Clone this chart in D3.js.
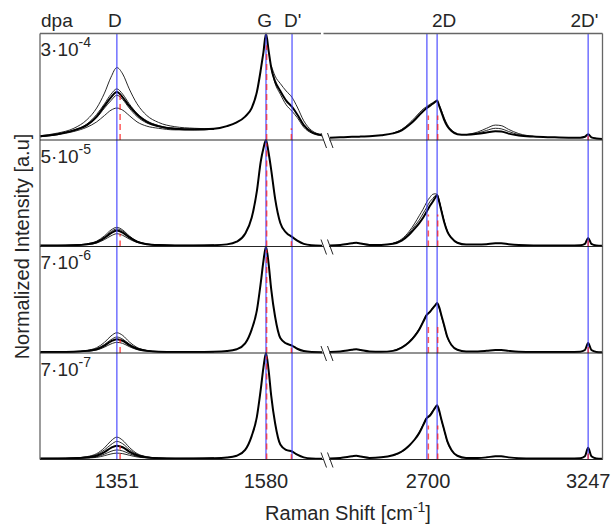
<!DOCTYPE html>
<html>
<head>
<meta charset="utf-8">
<script src="https://cdn.jsdelivr.net/npm/d3@7"></script>
<style>
  body { margin: 0; background: #fff; }
  text { font-family: "Liberation Sans", Arial, sans-serif; fill: #262626; }
</style>
</head>
<body>
<div id="vis"></div>
<script>
// wavenumber grids (cm-1) for the two halves of the broken axis
var gridLeft = [1233, 1260, 1285, 1305, 1320, 1332, 1342, 1351, 1360, 1370,
  1382, 1397, 1415, 1440, 1470, 1500, 1520, 1535, 1548, 1558,
  1566, 1572, 1576, 1580, 1584, 1588, 1594, 1602, 1611, 1620,
  1628, 1638, 1650, 1666];
var gridRight = [2365, 2400, 2440, 2455, 2470, 2500, 2540, 2580, 2610, 2635,
  2655, 2670, 2683, 2696, 2706, 2716, 2725, 2731, 2738, 2746,
  2755, 2766, 2780, 2800, 2830, 2870, 2900, 2930, 2950, 2975,
  3010, 3060, 3120, 3180, 3220, 3236, 3247, 3258, 3275, 3296];

var dpaBase = ["3\u00B710", "5\u00B710", "7\u00B710", "7\u00B710"];
var dpaExp = ["-4", "-5", "-6", "-7"];

var tickValues = [1351, 1580, 2700, 3247];
var peakNames = ["D", "G", "D'", "2D", "2D'"];
var peakLabelPos = [1348, 1578, 1621, 2755, 3234];
var peakLines = [1351, 1580, 1620, 2696, 2731, 3247];   // blue reference lines
var fitPos = [1356, 1581, 1619, 2701, 2733, 3247];      // red dashed fitted peaks
var fitH1 = [0.42, 0.89, 0.11, 0.23, 0.23, 0.04];
var fitH2 = [0.12, 0.97, 0.05, 0.30, 0.30, 0.07];
var fitH3 = [0.13, 0.97, 0.05, 0.27, 0.27, 0.08];
var fitH4 = [0.13, 0.97, 0.05, 0.32, 0.32, 0.09];

// panel 1 (3e-4 dpa)
var p1Left = [0.035, 0.055, 0.09, 0.14, 0.22, 0.32, 0.40, 0.45, 0.40, 0.32,
  0.24, 0.17, 0.13, 0.105, 0.10, 0.105, 0.13, 0.165, 0.22, 0.30,
  0.45, 0.66, 0.82, 1.0, 0.84, 0.68, 0.55, 0.46, 0.37, 0.31,
  0.24, 0.14, 0.075, 0.045];
var p1Right = [0.02, 0.025, 0.03, 0.03, 0.032, 0.035, 0.045, 0.062, 0.09, 0.14,
  0.19, 0.235, 0.27, 0.30, 0.32, 0.34, 0.36, 0.37, 0.32, 0.26,
  0.19, 0.13, 0.085, 0.055, 0.05, 0.058, 0.07, 0.082, 0.08, 0.06,
  0.042, 0.032, 0.026, 0.022, 0.022, 0.03, 0.055, 0.025, 0.015, 0.01];
var p1D = [
  [0.04, 0.065, 0.11, 0.19, 0.30, 0.44, 0.59, 0.68, 0.62, 0.48, 0.34, 0.23, 0.165, 0.125, 0.11, 0.105],
  [0.035, 0.055, 0.095, 0.15, 0.24, 0.34, 0.43, 0.48, 0.43, 0.34, 0.25, 0.18, 0.135, 0.11, 0.10, 0.105],
  [0.035, 0.055, 0.09, 0.14, 0.21, 0.30, 0.37, 0.42, 0.38, 0.30, 0.22, 0.16, 0.125, 0.10, 0.095, 0.10],
  [0.03, 0.05, 0.08, 0.12, 0.17, 0.23, 0.28, 0.30, 0.28, 0.23, 0.17, 0.13, 0.11, 0.095, 0.095, 0.10]];
var p1Dp = [
  [0.70, 0.60, 0.53, 0.46, 0.40, 0.31, 0.18, 0.09, 0.05],
  [0.67, 0.53, 0.43, 0.33, 0.27, 0.21, 0.12, 0.065, 0.04]];
var p12D = [
  [0.065, 0.10, 0.155, 0.21, 0.255, 0.29, 0.315, 0.335, 0.35, 0.36, 0.36, 0.33, 0.275, 0.21, 0.145, 0.095, 0.06]];
var p1Bump = [
  [0.05, 0.075, 0.11, 0.14, 0.135, 0.10, 0.06, 0.035],
  [0.05, 0.065, 0.09, 0.11, 0.105, 0.08, 0.05, 0.033]];

// panel 2 (5e-5 dpa)
var p2Left = [0.01, 0.01, 0.012, 0.02, 0.04, 0.08, 0.125, 0.15, 0.13, 0.085,
  0.045, 0.022, 0.013, 0.01, 0.01, 0.012, 0.02, 0.045, 0.12, 0.27,
  0.52, 0.80, 0.92, 1.0, 0.88, 0.72, 0.45, 0.22, 0.13, 0.09,
  0.055, 0.025, 0.012, 0.008];
var p2Right = [0.01, 0.015, 0.03, 0.035, 0.028, 0.015, 0.015, 0.025, 0.055, 0.11,
  0.17, 0.22, 0.27, 0.33, 0.38, 0.42, 0.46, 0.48, 0.42, 0.33,
  0.23, 0.14, 0.08, 0.035, 0.018, 0.018, 0.022, 0.03, 0.03, 0.022,
  0.014, 0.01, 0.01, 0.01, 0.012, 0.025, 0.08, 0.025, 0.01, 0.006];
var p2D = [
  [0.01, 0.01, 0.014, 0.025, 0.05, 0.10, 0.155, 0.18, 0.155, 0.10, 0.05, 0.024, 0.014, 0.01, 0.01, 0.012],
  [0.01, 0.01, 0.013, 0.022, 0.045, 0.09, 0.14, 0.165, 0.145, 0.095, 0.048, 0.023, 0.013, 0.01, 0.01, 0.012],
  [0.008, 0.009, 0.011, 0.018, 0.033, 0.065, 0.10, 0.12, 0.105, 0.07, 0.038, 0.02, 0.012, 0.01, 0.01, 0.012]];
var p22D = [
  [0.03, 0.07, 0.14, 0.22, 0.29, 0.35, 0.42, 0.46, 0.49, 0.495, 0.49, 0.43, 0.34, 0.24, 0.145, 0.08, 0.035],
  [0.028, 0.06, 0.125, 0.195, 0.25, 0.31, 0.37, 0.42, 0.45, 0.48, 0.49, 0.43, 0.335, 0.235, 0.14, 0.08, 0.035]];

// panel 3 (7e-6 dpa)
var p3Left = [0.01, 0.01, 0.012, 0.02, 0.035, 0.07, 0.11, 0.13, 0.115, 0.075,
  0.04, 0.02, 0.012, 0.01, 0.01, 0.012, 0.018, 0.035, 0.09, 0.22,
  0.40, 0.66, 0.86, 1.0, 0.84, 0.60, 0.34, 0.14, 0.09, 0.07,
  0.04, 0.018, 0.01, 0.008];
var p3Right = [0.01, 0.015, 0.03, 0.035, 0.028, 0.015, 0.012, 0.02, 0.05, 0.10,
  0.16, 0.22, 0.29, 0.36, 0.385, 0.42, 0.45, 0.47, 0.43, 0.35,
  0.26, 0.15, 0.075, 0.03, 0.015, 0.015, 0.02, 0.028, 0.028, 0.02,
  0.012, 0.01, 0.01, 0.01, 0.012, 0.028, 0.094, 0.028, 0.01, 0.006];
var p3D = [
  [0.01, 0.01, 0.014, 0.025, 0.05, 0.10, 0.16, 0.19, 0.165, 0.105, 0.052, 0.025, 0.014, 0.01, 0.01, 0.012],
  [0.01, 0.01, 0.013, 0.022, 0.04, 0.08, 0.125, 0.15, 0.13, 0.085, 0.045, 0.022, 0.013, 0.01, 0.01, 0.012],
  [0.008, 0.009, 0.011, 0.017, 0.028, 0.055, 0.085, 0.10, 0.09, 0.06, 0.032, 0.018, 0.011, 0.01, 0.01, 0.012]];
var p32D = [
  [0.022, 0.055, 0.105, 0.17, 0.23, 0.30, 0.365, 0.39, 0.425, 0.455, 0.465, 0.42, 0.34, 0.25, 0.145, 0.075, 0.03]];

// panel 4 (7e-7 dpa)
var p4Left = [0.01, 0.01, 0.012, 0.02, 0.035, 0.07, 0.11, 0.13, 0.115, 0.075,
  0.04, 0.02, 0.012, 0.01, 0.01, 0.012, 0.018, 0.035, 0.09, 0.22,
  0.40, 0.66, 0.86, 1.0, 0.84, 0.60, 0.34, 0.14, 0.09, 0.075,
  0.045, 0.02, 0.01, 0.008];
var p4Right = [0.01, 0.015, 0.03, 0.035, 0.028, 0.015, 0.02, 0.04, 0.075, 0.13,
  0.19, 0.25, 0.32, 0.39, 0.41, 0.45, 0.49, 0.51, 0.46, 0.37,
  0.28, 0.17, 0.09, 0.035, 0.015, 0.015, 0.02, 0.03, 0.03, 0.02,
  0.012, 0.01, 0.01, 0.01, 0.012, 0.03, 0.11, 0.03, 0.01, 0.006];
var p4D = [
  [0.01, 0.011, 0.015, 0.027, 0.055, 0.11, 0.175, 0.21, 0.18, 0.115, 0.056, 0.026, 0.014, 0.01, 0.01, 0.012],
  [0.01, 0.01, 0.014, 0.024, 0.046, 0.09, 0.14, 0.17, 0.148, 0.095, 0.048, 0.023, 0.013, 0.01, 0.01, 0.012],
  [0.008, 0.009, 0.011, 0.016, 0.026, 0.05, 0.077, 0.09, 0.08, 0.055, 0.03, 0.017, 0.011, 0.01, 0.01, 0.012],
  [0.008, 0.008, 0.01, 0.014, 0.02, 0.036, 0.052, 0.06, 0.055, 0.04, 0.024, 0.015, 0.01, 0.009, 0.01, 0.012]];
var p42D = [
  [0.035, 0.07, 0.125, 0.19, 0.255, 0.33, 0.40, 0.42, 0.46, 0.49, 0.50, 0.45, 0.365, 0.275, 0.165, 0.085, 0.035]];

// start indices of the partial extra curves in their grids
var startD = 0, startDp = 25, start2D = 7, startBump = 24;

var panels = [
  { left: p1Left, right: p1Right, fit: fitH1,
    extras: [[gridLeft, startD, p1D], [gridLeft, startDp, p1Dp], [gridRight, start2D, p12D], [gridRight, startBump, p1Bump]] },
  { left: p2Left, right: p2Right, fit: fitH2,
    extras: [[gridLeft, startD, p2D], [gridRight, start2D, p22D]] },
  { left: p3Left, right: p3Right, fit: fitH3,
    extras: [[gridLeft, startD, p3D], [gridRight, start2D, p32D]] },
  { left: p4Left, right: p4Right, fit: fitH4,
    extras: [[gridLeft, startD, p4D], [gridRight, start2D, p42D]] }
];

var width = 611, height = 525;
var plotL = 40, plotR = 602.5, plotT = 33.5, panelH = 106.5;
var plotB = plotT + 4 * panelH;

var xLeft = d3.scaleLinear().domain([1233, 1666]).range([40, 322]);
var xRight = d3.scaleLinear().domain([2365, 3296]).range([330, 602.5]);
function xPos(c) { return c < 2000 ? xLeft(c) : xRight(c); }

var svg = d3.select("#vis").append("svg")
  .attr("width", width)
  .attr("height", height);

var curves = svg.append("g");
var lines = svg.append("g");

panels.forEach(function(p, i) {
  var top = plotT + i * panelH;
  var y = d3.scaleLinear().domain([0, 1]).range([top + panelH, top]);

  var line = d3.line()
    .x(function(d) { return xPos(d[0]); })
    .y(function(d) { return y(d[1]); })
    .curve(d3.curveMonotoneX);

  // extra spectra first (thin), main spectrum on top (thick)
  p.extras.forEach(function(ex) {
    var grid = ex[0], start = ex[1];
    ex[2].forEach(function(vals) {
      var pts = vals.map(function(v, k) { return [grid[start + k], v]; });
      curves.append("path")
        .attr("d", line(pts))
        .attr("fill", "none")
        .attr("stroke", "#111")
        .attr("stroke-width", 0.9);
    });
  });

  [[gridLeft, p.left], [gridRight, p.right]].forEach(function(seg) {
    var pts = seg[0].map(function(c, k) { return [c, seg[1][k]]; });
    curves.append("path")
      .attr("d", line(pts))
      .attr("fill", "none")
      .attr("stroke", "#000")
      .attr("stroke-width", 2);
  });

  // red dashed fitted components
  fitPos.forEach(function(c, k) {
    lines.append("line")
      .attr("x1", xPos(c)).attr("x2", xPos(c))
      .attr("y1", y(0)).attr("y2", y(p.fit[k]))
      .attr("stroke", "#ff2020")
      .attr("stroke-opacity", 0.75)
      .attr("stroke-width", 1.5)
      .attr("stroke-dasharray", "6,4");
  });

  // dpa label
  var t = svg.append("text")
    .attr("x", 40.5)
    .attr("y", top + 22.5)
    .style("font-size", "19px")
    .text(dpaBase[i]);
  t.append("tspan")
    .attr("dy", -9)
    .style("font-size", "14px")
    .text(dpaExp[i]);
});

// blue reference lines
svg.selectAll(".peak")
  .data(peakLines)
  .enter().append("line")
  .attr("class", "peak")
  .attr("x1", function(d) { return xPos(d); })
  .attr("x2", function(d) { return xPos(d); })
  .attr("y1", plotT)
  .attr("y2", plotB)
  .attr("stroke", "#4040ff")
  .attr("stroke-opacity", 0.8)
  .attr("stroke-width", 1.4);

svg.node().appendChild(lines.node());

// frame
var frame = svg.append("g").attr("stroke", "#666").attr("stroke-width", 1.3);
frame.append("line").attr("x1", plotL).attr("x2", 321).attr("y1", plotT).attr("y2", plotT);
frame.append("line").attr("x1", 323.5).attr("x2", plotR).attr("y1", plotT).attr("y2", plotT);
frame.append("line").attr("x1", plotL).attr("x2", plotL).attr("y1", plotT).attr("y2", plotB);
frame.append("line").attr("x1", plotR).attr("x2", plotR).attr("y1", plotT).attr("y2", plotB);

// panel separators and bottom axis, with the axis-break marks
var sep = svg.append("g").attr("stroke", "#262626").attr("stroke-width", 1);
[1, 2, 3, 4].forEach(function(k) {
  var yy = plotT + k * panelH;
  sep.append("line").attr("x1", plotL).attr("x2", 324).attr("y1", yy).attr("y2", yy);
  sep.append("line").attr("x1", 329).attr("x2", plotR).attr("y1", yy).attr("y2", yy);
  sep.append("line").attr("x1", 321).attr("x2", 326.5).attr("y1", yy - 7).attr("y2", yy + 8);
  sep.append("line").attr("x1", 327.5).attr("x2", 333).attr("y1", yy - 7).attr("y2", yy + 8);
});

// peak names on top
svg.append("text")
  .attr("x", 41).attr("y", 27)
  .style("font-size", "19px")
  .text("dpa");

svg.selectAll(".pname")
  .data(peakNames)
  .enter().append("text")
  .attr("class", "pname")
  .attr("x", function(d, i) { return xPos(peakLabelPos[i]); })
  .attr("y", 27)
  .attr("text-anchor", "middle")
  .style("font-size", "19px")
  .text(function(d) { return d; });

// tick labels
svg.selectAll(".tick")
  .data(tickValues)
  .enter().append("text")
  .attr("class", "tick")
  .attr("x", function(d) { return xPos(d); })
  .attr("y", 488)
  .attr("text-anchor", "middle")
  .style("font-size", "20px")
  .text(function(d) { return d; });

// axis labels
var xl = svg.append("text")
  .attr("x", 348).attr("y", 520)
  .attr("text-anchor", "middle")
  .style("font-size", "20px")
  .text("Raman Shift [cm");
xl.append("tspan").attr("dy", -8).style("font-size", "14px").text("-1");
xl.append("tspan").attr("dy", 8).text("]");

svg.append("text")
  .attr("transform", "translate(29," + (plotT + 2 * panelH) + ") rotate(-90)")
  .attr("text-anchor", "middle")
  .style("font-size", "20px")
  .text("Normalized Intensity [a.u]");
</script>
</body>
</html>
